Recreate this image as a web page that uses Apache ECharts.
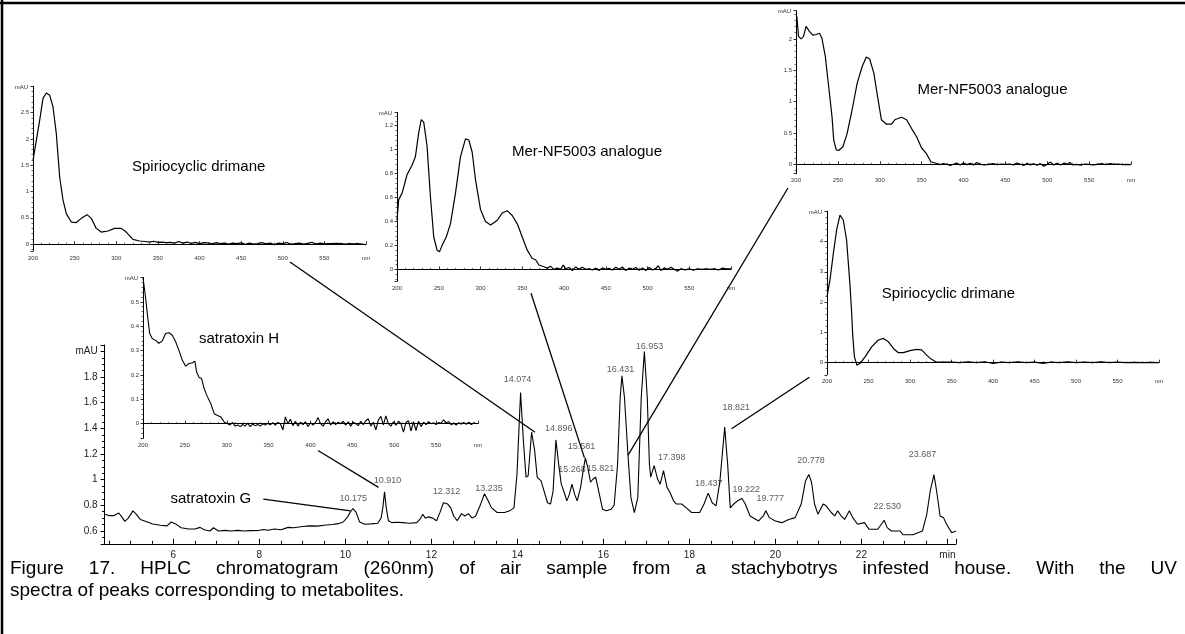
<!DOCTYPE html>
<html><head><meta charset="utf-8">
<script src="https://cdn.jsdelivr.net/npm/echarts@6/dist/echarts.min.js"></script>
<style>html,body{margin:0;padding:0;background:#fff}#c{width:1185px;height:634px}</style>
</head><body><div id="c"></div>
<script>
// ---------- DATA ----------
// Main HPLC chromatogram (retention time in min, absorbance in mAU)
const chromatogram = [
[4.40,0.73],[4.50,0.72],[4.62,0.72],[4.73,0.74],[4.80,0.71],[4.87,0.675],[4.95,0.70],[5.06,0.757],[5.14,0.73],[5.23,0.69],
[5.35,0.675],[5.52,0.655],[5.70,0.645],[5.85,0.64],[5.95,0.67],[6.05,0.655],[6.18,0.625],[6.35,0.615],[6.50,0.615],[6.62,0.628],
[6.72,0.61],[6.85,0.60],[6.93,0.625],[7.05,0.60],[7.20,0.605],[7.34,0.60],[7.50,0.605],[7.65,0.60],[7.80,0.603],[8.00,0.605],
[8.10,0.612],[8.20,0.605],[8.35,0.615],[8.50,0.61],[8.67,0.628],[8.80,0.625],[9.00,0.635],[9.17,0.64],[9.35,0.638],[9.50,0.645],
[9.70,0.65],[9.83,0.657],[9.95,0.67],[10.05,0.71],[10.12,0.75],[10.175,0.775],[10.25,0.745],[10.33,0.67],[10.45,0.652],[10.60,0.655],
[10.75,0.66],[10.83,0.70],[10.87,0.78],[10.91,0.905],[10.95,0.78],[11.00,0.68],[11.08,0.665],[11.20,0.668],[11.33,0.665],[11.50,0.66],
[11.66,0.665],[11.73,0.69],[11.80,0.73],[11.86,0.70],[11.93,0.71],[12.03,0.70],[12.12,0.68],[12.20,0.745],[12.28,0.82],[12.312,0.83],
[12.38,0.81],[12.45,0.78],[12.52,0.717],[12.60,0.68],[12.70,0.735],[12.78,0.717],[12.86,0.735],[12.95,0.70],[13.03,0.717],[13.13,0.796],
[13.235,0.89],[13.32,0.835],[13.40,0.78],[13.53,0.744],[13.70,0.744],[13.82,0.757],[13.92,0.78],[13.99,1.04],[14.074,1.68],[14.14,1.30],
[14.20,1.02],[14.25,1.03],[14.33,1.37],[14.40,1.23],[14.46,1.02],[14.55,0.99],[14.62,0.91],[14.70,0.82],[14.77,0.81],[14.83,0.91],
[14.896,1.31],[14.96,1.12],[15.02,0.965],[15.08,0.91],[15.15,0.835],[15.21,0.887],[15.268,0.965],[15.33,0.887],[15.39,0.835],[15.47,0.94],
[15.53,1.07],[15.581,1.17],[15.64,1.09],[15.70,0.98],[15.76,1.005],[15.821,1.02],[15.89,0.91],[15.98,0.77],[16.07,0.757],[16.18,0.77],
[16.25,0.80],[16.33,1.12],[16.39,1.64],[16.431,1.81],[16.49,1.64],[16.57,1.20],[16.64,0.86],[16.72,0.744],[16.80,0.86],[16.88,1.64],
[16.953,2.00],[17.02,1.64],[17.07,1.12],[17.10,1.02],[17.18,1.11],[17.26,1.005],[17.32,0.965],[17.398,1.07],[17.48,0.94],[17.55,0.90],
[17.63,0.835],[17.70,0.81],[17.82,0.81],[17.93,0.78],[18.05,0.744],[18.24,0.744],[18.34,0.81],[18.437,0.895],[18.53,0.82],[18.62,0.796],
[18.71,0.99],[18.821,1.41],[18.89,1.12],[18.95,0.78],[19.03,0.81],[19.12,0.835],[19.222,0.853],[19.30,0.81],[19.41,0.717],[19.61,0.678],
[19.72,0.717],[19.777,0.757],[19.86,0.704],[20.00,0.678],[20.15,0.665],[20.31,0.69],[20.46,0.704],[20.60,0.81],[20.70,0.99],[20.778,1.04],
[20.84,0.98],[20.91,0.81],[20.99,0.73],[21.11,0.81],[21.18,0.796],[21.30,0.744],[21.38,0.717],[21.45,0.757],[21.53,0.717],[21.61,0.69],
[21.72,0.757],[21.80,0.704],[21.91,0.652],[22.07,0.665],[22.18,0.613],[22.38,0.613],[22.53,0.684],[22.60,0.626],[22.70,0.60],[22.90,0.60],
[22.97,0.57],[23.20,0.57],[23.42,0.60],[23.52,0.73],[23.60,0.91],[23.687,1.04],[23.75,0.91],[23.83,0.717],[23.91,0.704],[23.98,0.652],
[24.10,0.587],[24.20,0.60]
];
// Peak retention-time labels and where their text sits (min, mAU)
const peakLabels = ['10.175','10.910','12.312','13.235','14.074','14.896','15.268','15.581','15.821','16.431','16.953','17.398','18.437','18.821','19.222','19.777','20.778','22.530','23.687'];
const peakLabelTime = [10.18,10.98,12.35,13.34,14.0,14.96,15.27,15.49,15.93,16.40,17.07,17.59,18.45,19.09,19.32,19.88,20.83,22.60,23.42];
const peakLabelMAU = [0.856,0.997,0.908,0.934,1.78,1.40,1.08,1.26,1.09,1.86,2.04,1.17,0.973,1.56,0.92,0.856,1.15,0.79,1.20];

// UV spectra (nm, mAU)
const spiroSpectrumA = [
[200,1.59],[204,1.97],[208,2.35],[212,2.77],[216,2.87],[220,2.83],[224,2.61],[228,2.10],[232,1.28],[236,0.84],[240,0.58],[246,0.42],
[252,0.41],[258,0.49],[265,0.56],[270,0.49],[276,0.30],[282,0.23],[290,0.25],[298,0.30],[306,0.30],[312,0.23],[320,0.09],[328,0.06],
[335,0.05],[340,0.04],[345,0.055],[350,0.035],[355,0.04],[360,0.03],[365,0.035],[370,0.02],[375,0.05],[380,0.02],[385,0.04],[390,0.015],
[395,0.035],[400,0.01],[405,0.03],[410,0.025],[415,0.005],[420,0.03],[425,0.01],[430,0.02],[435,0.0],[440,0.02],[445,0.01],[450,0.025],
[455,-0.005],[460,0.02],[465,0.0],[470,0.01],[475,0.03],[480,0.005],[485,0.02],[490,-0.01],[495,0.02],[500,0.01],[505,0.03],[510,-0.005],
[515,0.01],[520,0.02],[525,0.0],[530,0.015],[535,0.035],[540,0.0],[545,0.02],[550,0.005],[555,0.01],[560,0.01],[565,0.015],[570,0.01],
[575,0.0],[580,0.01],[585,0.005],[590,0.01],[595,0.0],[600,-0.01]
];
const merSpectrumA = [
[200,0.41],[202,0.58],[206,0.635],[212,0.79],[218,0.87],[222,0.94],[226,1.14],[229,1.25],[232,1.23],[236,1.03],[240,0.61],[244,0.27],
[248,0.16],[251,0.148],[254,0.20],[259,0.27],[264,0.38],[270,0.635],[276,0.94],[282,1.09],[286,1.08],[290,0.98],[294,0.75],[300,0.50],
[306,0.40],[312,0.37],[316,0.39],[320,0.41],[326,0.47],[332,0.49],[338,0.45],[344,0.38],[350,0.27],[356,0.16],[362,0.09],[366,0.08],
[370,0.036],[376,0.022],[380,0.01],[384,0.025],[388,0.0],[392,0.01],[396,0.0],[399,0.035],[402,0.005],[406,0.015],[410,-0.01],[414,0.02],
[418,0.0],[422,0.018],[426,0.0],[430,0.005],[434,-0.005],[438,0.01],[442,-0.01],[446,0.012],[450,0.0],[454,0.008],[458,-0.005],[462,0.018],
[466,0.0],[470,0.02],[474,-0.01],[478,0.01],[482,0.0],[486,0.015],[490,-0.008],[494,0.012],[498,-0.01],[502,0.015],[506,-0.005],[510,0.008],
[513,0.03],[516,-0.01],[520,0.012],[524,0.0],[528,0.018],[532,0.0],[536,-0.015],[540,0.005],[545,-0.005],[550,0.005],[555,-0.008],[560,0.005],
[565,0.0],[570,0.005],[575,0.0],[580,0.005],[585,-0.005],[590,0.01],[595,0.005],[600,0.005]
];
const merSpectrumB = [
[201,2.36],[203,2.04],[206,2.0],[209,2.04],[212,2.2],[216,2.12],[220,2.06],[224,2.07],[228,2.09],[231,2.01],[235,1.72],[239,1.24],
[243,0.76],[245,0.39],[248,0.23],[251,0.22],[256,0.28],[261,0.49],[267,0.87],[273,1.29],[279,1.56],[284,1.71],[288,1.68],[293,1.45],
[298,1.03],[302,0.71],[308,0.64],[314,0.64],[318,0.71],[326,0.75],[332,0.71],[338,0.57],[344,0.44],[350,0.26],[356,0.165],[361,0.04],
[367,0.016],[372,-0.005],[376,0.01],[380,0.0],[384,-0.02],[388,0.0],[392,0.02],[396,-0.01],[400,0.02],[404,-0.005],[408,0.015],[412,-0.01],
[416,0.03],[420,0.0],[425,-0.01],[430,0.0],[435,0.01],[440,-0.005],[445,0.005],[450,0.0],[455,0.005],[460,-0.01],[464,0.02],[468,0.0],
[472,-0.02],[476,0.015],[480,-0.01],[484,0.01],[488,-0.015],[492,0.01],[496,-0.03],[500,0.0],[504,0.035],[508,-0.01],[512,0.015],[516,-0.01],
[520,0.02],[524,0.0],[527,0.03],[530,-0.01],[535,0.0],[540,-0.015],[545,0.005],[550,0.0],[555,-0.01],[560,0.0],[565,0.01],[570,-0.005],
[575,0.01],[580,0.0],[585,0.005],[590,-0.005],[595,0.0],[600,-0.005]
];
const spiroSpectrumB = [
[200,2.18],[203.6,2.73],[207.6,3.6],[211.6,4.38],[215.6,4.87],[219.6,4.71],[223.6,4.05],[227.6,2.6],[229.6,1.7],[231,0.9],[233,0.2],
[236,-0.08],[240,-0.02],[246,0.2],[254,0.53],[262,0.75],[268,0.8],[274,0.69],[280,0.47],[286,0.33],[292,0.33],[300,0.4],[308,0.44],
[314,0.42],[320,0.25],[326,0.11],[331,0.03],[340,0.02],[350,0.02],[360,0.0],[370,0.03],[380,0.0],[390,0.03],[400,-0.02],[410,0.02],
[420,0.0],[430,0.03],[440,0.0],[450,0.02],[460,-0.02],[470,0.02],[480,0.0],[490,0.03],[500,0.0],[510,0.02],[520,0.0],[530,0.03],
[540,0.0],[550,0.02],[560,0.0],[570,0.01],[580,0.0],[590,0.01],[600,0.0]
];
const satratoxinHSpectrum = [
[200,0.60],[203,0.52],[206,0.425],[208,0.37],[211,0.35],[215,0.342],[219,0.33],[223,0.34],[227,0.37],[231,0.373],[235,0.363],[239,0.336],
[243,0.30],[247,0.26],[251,0.236],[255,0.247],[259,0.25],[262,0.256],[264,0.212],[267,0.19],[270,0.185],[273,0.144],[277,0.11],[281,0.082],
[285,0.041],[289,0.034],[293,0.027],[297,0.007],[301,0.0],[304,-0.005],[307,0.005],[310,-0.01],[313,-0.005],[316,-0.012],[319,-0.003],[322,-0.01],
[325,0.002],[328,-0.012],[331,-0.002],[334,-0.008],[337,-0.003],[340,-0.01],[343,0.0],[346,-0.006],[349,0.002],[352,-0.005],[355,0.004],[358,-0.006],
[361,0.005],[364,0.0],[367,-0.025],[370,0.028],[373,0.0],[376,0.018],[379,-0.008],[382,0.01],[385,-0.01],[388,0.006],[391,-0.004],[394,0.008],
[397,-0.012],[400,0.004],[403,-0.006],[406,0.005],[409,0.025],[412,0.0],[415,-0.01],[418,0.008],[421,0.02],[424,-0.006],[427,0.008],[430,-0.004],
[433,0.006],[436,0.0],[439,0.01],[442,-0.006],[445,0.008],[448,-0.01],[451,0.006],[454,0.0],[457,-0.008],[460,0.01],[463,-0.004],[466,0.012],
[469,0.02],[472,-0.01],[475,0.006],[478,-0.025],[481,0.015],[484,0.03],[487,-0.005],[490,0.032],[493,0.0],[496,-0.01],[499,0.008],[502,-0.006],
[505,0.01],[508,0.0],[511,-0.035],[514,0.005],[517,0.012],[520,-0.03],[523,0.008],[526,-0.028],[529,0.01],[532,-0.012],[535,0.006],[538,-0.004],
[541,0.008],[544,0.0],[547,0.004],[550,-0.004],[553,0.005],[556,0.002],[559,0.016],[562,0.004],[565,0.008],[568,-0.004],[571,0.002],[574,-0.006],
[577,0.004],[580,-0.002],[583,0.005],[586,-0.003],[589,0.006],[592,-0.004],[595,0.004],[598,0.0]
];
const insetTitles = ['Spiriocyclic drimane','Mer-NF5003 analogue','Mer-NF5003 analogue','Spiriocyclic drimane','satratoxin H'];
const calloutLabel = 'satratoxin G';
const captionLine1 = 'Figure 17. HPLC chromatogram (260nm) of air sample from a stachybotrys infested house. With the UV';
const captionLine2 = 'spectra of peaks corresponding to metabolites.';

// ---------- CHART ----------
const FONT = '"Liberation Sans", Arial, Helvetica, sans-serif';
const chart = echarts.init(document.getElementById('c'), null, {renderer: 'canvas'});

const gridDefs = [
  {left: 104.6, top: 345, width: 851.4, height: 198.8},   // 0 main
  {left: 33,  top: 86.2, width: 333, height: 164.8},      // 1 spiro A
  {left: 397, top: 112.5, width: 334, height: 168.8},     // 2 mer A
  {left: 796, top: 10.7, width: 335, height: 163},        // 3 mer B
  {left: 827, top: 211.2, width: 332, height: 163.6},     // 4 spiro B
  {left: 143, top: 277.5, width: 335, height: 160.8}      // 5 satratoxin H
];
const grids = gridDefs.map(g => Object.assign({containLabel: false, outerBoundsMode: 'none', show: false}, g));

const black = '#000';
function insetX(i) {
  return {gridIndex: i, type: 'value', min: 200, max: 600, interval: 50,
    axisLine: {lineStyle: {color: black, width: 1}},
    axisTick: {inside: true, length: 3, lineStyle: {color: black, width: 0.8}},
    minorTick: {show: true, splitNumber: 5, length: 1.5, lineStyle: {color: black, width: 0.6}},
    splitLine: {show: false},
    axisLabel: {fontSize: 6, color: '#333', fontFamily: FONT, margin: 4, formatter: v => v === 600 ? 'nm' : String(v)}};
}
function insetY(i, min, max, split) {
  return {gridIndex: i, type: 'value', min: min, max: max, splitNumber: split,
    name: 'mAU', nameLocation: 'end', nameGap: -1,
    nameTextStyle: {fontSize: 6, color: '#333', fontFamily: FONT, align: 'right', verticalAlign: 'middle', padding: [0, 5, 0, 0]},
    axisLine: {lineStyle: {color: black, width: 1}},
    axisTick: {length: 2.5, lineStyle: {color: black, width: 0.8}},
    minorTick: {show: true, splitNumber: 5, length: 1.5, lineStyle: {color: black, width: 0.6}},
    splitLine: {show: false},
    axisLabel: {fontSize: 6, color: '#333', fontFamily: FONT, margin: 4, showMinLabel: false, showMaxLabel: false}};
}

const xAxes = [
  {gridIndex: 0, type: 'value', min: 4.4, max: 24.2, splitNumber: 10,
    axisLine: {lineStyle: {color: black, width: 1}},
    axisTick: {inside: true, length: 5, lineStyle: {color: black}},
    minorTick: {show: true, splitNumber: 4, length: 3, lineStyle: {color: black}},
    splitLine: {show: false},
    axisLabel: {fontSize: 10, color: '#222', fontFamily: FONT, margin: 6, showMinLabel: false, showMaxLabel: false,
      formatter: v => Math.abs(v - 24) < 1e-6 ? 'min' : String(v)}},
  insetX(1), insetX(2), insetX(3), insetX(4), insetX(5)
];
const yAxes = [
  {gridIndex: 0, type: 'value', min: 0.5, max: 2.05, splitNumber: 8,
    axisLine: {lineStyle: {color: black, width: 1}},
    axisTick: {length: 4, lineStyle: {color: black}},
    minorTick: {show: true, splitNumber: 4, length: 2.5, lineStyle: {color: black}},
    splitLine: {show: false},
    axisLabel: {fontSize: 10, color: '#222', fontFamily: FONT, margin: 7, showMinLabel: false, showMaxLabel: false,
      formatter: v => Math.abs(v - 2) < 1e-6 ? 'mAU' : String(+v.toFixed(2))}},
  insetY(1, -0.13, 3.0, 6),
  insetY(2, -0.1, 1.31, 7),
  insetY(3, -0.15, 2.45, 5),
  insetY(4, -0.4, 5.0, 5),
  insetY(5, -0.06, 0.6, 6)
];

function lineSeries(data, i, w) {
  return {type: 'line', xAxisIndex: i, yAxisIndex: i, data: data, showSymbol: false, symbol: 'none',
    smooth: false, silent: true, lineStyle: {color: black, width: w}, z: 3};
}

const peakPoints = peakLabels.map((t, k) => ({name: t, value: [peakLabelTime[k], peakLabelMAU[k]]}));

const option = {
  animation: false,
  backgroundColor: '#fff',
  grid: grids,
  xAxis: xAxes,
  yAxis: yAxes,
  series: [
    lineSeries(chromatogram, 0, 1.1),
    lineSeries(spiroSpectrumA, 1, 1.2),
    lineSeries(merSpectrumA, 2, 1.2),
    lineSeries(merSpectrumB, 3, 1.2),
    lineSeries(spiroSpectrumB, 4, 1.2),
    lineSeries(satratoxinHSpectrum, 5, 1.1),
    {type: 'scatter', xAxisIndex: 0, yAxisIndex: 0, data: peakPoints, symbolSize: 0, silent: true,
      label: {show: true, position: 'inside', formatter: '{b}', fontSize: 9, color: '#333', fontFamily: FONT}}
  ]
};
chart.setOption(option);

// ---------- annotations (positions in each panel's own data units) ----------
const titleAnchors = [[1, 399, 1.46], [2, 427.5, 0.98], [3, 434.6, 1.185], [4, 346.4, 2.27], [5, 314.6, 0.347]];
const calloutAnchor = [0, 6.87, 0.848];
const connectors = [
  {from: [1, 508.7, -0.34], to: [14.41, 1.37]},
  {from: [5, 409, -0.11], to: [10.77, 0.94]},
  {from: [0, 8.09, 0.848], to: [10.12, 0.757]},
  {from: [2, 360.5, -0.2], to: [15.56, 1.17]},
  {from: [3, 190.4, -0.378], to: [16.57, 1.19]},
  {from: [4, 178.8, -0.48], to: [18.98, 1.397]}
];
function px(gi, x, y) { return chart.convertToPixel({gridIndex: gi}, [x, y]); }

const graphics = [];
// frame
graphics.push({type: 'line', shape: {x1: 0, y1: 3, x2: 1185, y2: 3}, style: {stroke: black, lineWidth: 2.5}, silent: true});
graphics.push({type: 'line', shape: {x1: 2, y1: 0, x2: 2, y2: 634}, style: {stroke: black, lineWidth: 2.5}, silent: true});

titleAnchors.forEach((a, k) => {
  const p = px(a[0], a[1], a[2]);
  graphics.push({type: 'text', x: p[0], y: p[1], silent: true,
    style: {text: insetTitles[k], font: '15px ' + FONT, fill: black, align: 'center', verticalAlign: 'middle', textAlign: 'center', textVerticalAlign: 'middle'}});
});
{
  const p = px(calloutAnchor[0], calloutAnchor[1], calloutAnchor[2]);
  graphics.push({type: 'text', x: p[0], y: p[1], silent: true,
    style: {text: calloutLabel, font: '15px ' + FONT, fill: black, align: 'center', verticalAlign: 'middle', textAlign: 'center', textVerticalAlign: 'middle'}});
}
connectors.forEach(c => {
  const a = px(c.from[0], c.from[1], c.from[2]);
  const b = px(0, c.to[0], c.to[1]);
  graphics.push({type: 'line', shape: {x1: a[0], y1: a[1], x2: b[0], y2: b[1]}, style: {stroke: black, lineWidth: 1.3}, silent: true, z: 10});
});

// caption: first line justified, second line left aligned
const capFont = '19px ' + FONT;
const mctx = document.createElement('canvas').getContext('2d');
mctx.font = capFont;
const words = captionLine1.split(' ');
const capLeft = 10, capRight = 1177;
const wsum = words.reduce((s, w) => s + mctx.measureText(w).width, 0);
const gap = (capRight - capLeft - wsum) / (words.length - 1);
let cx = capLeft;
words.forEach(w => {
  graphics.push({type: 'text', x: cx, y: 569, silent: true,
    style: {text: w, font: capFont, fill: black, align: 'left', verticalAlign: 'middle', textAlign: 'left', textVerticalAlign: 'middle'}});
  cx += mctx.measureText(w).width + gap;
});
graphics.push({type: 'text', x: capLeft, y: 591, silent: true,
  style: {text: captionLine2, font: capFont, fill: black, align: 'left', verticalAlign: 'middle', textAlign: 'left', textVerticalAlign: 'middle'}});

chart.setOption({graphic: graphics});
</script>
</body></html>
